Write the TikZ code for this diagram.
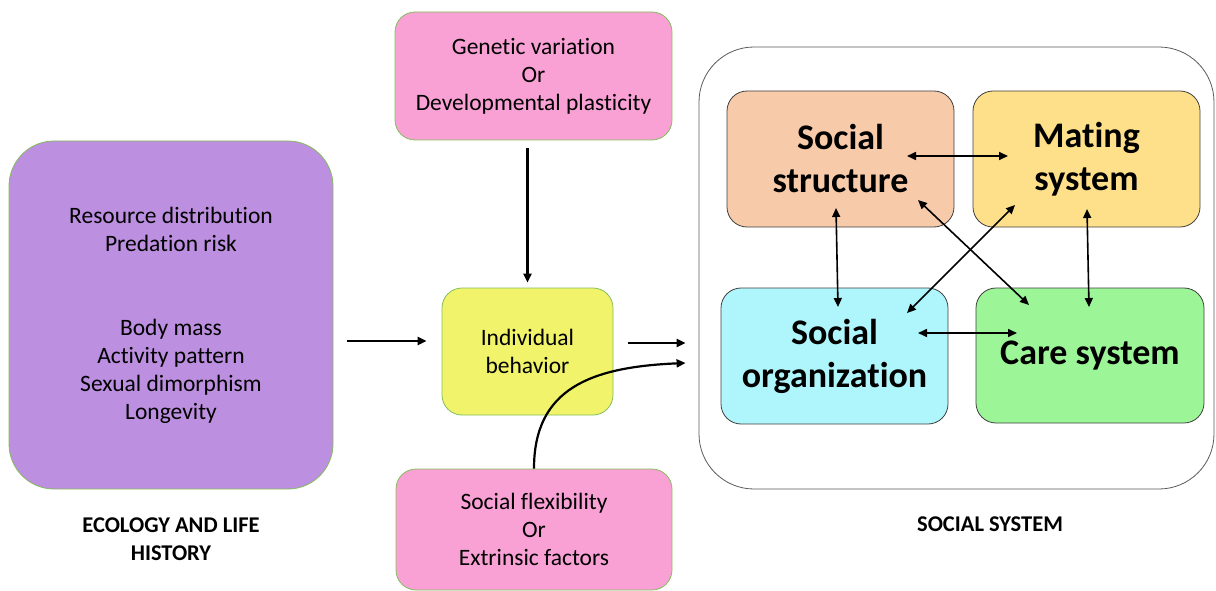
\documentclass[tikz,border=0pt]{standalone}
\usepackage{fontspec}
\setmainfont{Carlito}[Ligatures=NoCommon]
\usepackage{tikz}
\usetikzlibrary{arrows.meta,calc}
\definecolor{ecopurple}{RGB}{188,143,224}
\definecolor{factpink}{RGB}{249,161,213}
\definecolor{indyellow}{RGB}{241,243,106}
\definecolor{structpeach}{RGB}{247,202,170}
\definecolor{matinggold}{RGB}{255,224,138}
\definecolor{orgcyan}{RGB}{174,246,252}
\definecolor{caregreen}{RGB}{156,246,152}
\definecolor{edgegreen}{RGB}{132,190,92}

\begin{document}
\begin{tikzpicture}[x=1pt,y=-1pt,>={Triangle[length=9pt,width=8pt]},
	box/.style={draw=edgegreen,line width=0.8pt,rounded corners=20pt,align=center,inner sep=0pt,
		font=\fontsize{23.5}{28}\selectfont},
	sysbox/.style={draw=black!75,line width=0.8pt,rounded corners=20pt,align=center,inner sep=0pt,
		font=\fontsize{36}{43}\selectfont\bfseries},
	title/.style={align=center,font=\fontsize{22.5}{28}\selectfont\bfseries},
	flow/.style={->,line width=2.2pt},
	link/.style={<->,line width=1.6pt}]
	\useasboundingbox (0,0) rectangle (1216,591);

	\node[box,fill=ecopurple,rounded corners=45pt,minimum width=324pt,minimum height=348pt] (eco) at (171,315)
		{Resource distribution\\Predation risk\\[56pt]Body mass\\Activity pattern\\Sexual dimorphism\\Longevity};
	\node[box,fill=factpink,minimum width=277pt,minimum height=128pt] (gen) at (533.5,76)
		{Genetic variation\\Or\\Developmental plasticity};
	\node[box,fill=indyellow,minimum width=171pt,minimum height=127pt] (ind) at (527.5,351.5)
		{Individual\\behavior};
	\node[box,fill=factpink,minimum width=276pt,minimum height=121pt] (soc) at (534,529.5)
		{Social flexibility\\Or\\Extrinsic factors};

	\node[draw=black!65,line width=0.8pt,rounded corners=55pt,minimum width=515pt,minimum height=442pt] (sys) at (956.5,268) {};
	\node[sysbox,fill=structpeach,minimum width=227pt,minimum height=136pt] (ss) at (840.5,159) {Social\\structure};
	\node[sysbox,fill=matinggold,minimum width=227pt,minimum height=136pt] (ms) at (1086.5,159) {Mating\\system};
	\node[sysbox,fill=orgcyan,minimum width=227pt,minimum height=136pt] (so) at (834.5,356) {Social\\organization};
	\node[sysbox,fill=caregreen,minimum width=228pt,minimum height=135pt] (cs) at (1090,355.5) {Care system};

	\node[title] (ecolabel) at (171,539) {ECOLOGY AND LIFE\\HISTORY};
	\node[title] (syslabel) at (990,524) {SOCIAL SYSTEM};

	\draw[flow] ($(eco.east)+(14,26)$) -- ($(ind.west)+(-15,-10.5)$);
	\draw[flow,shorten <=8pt,shorten >=5pt] (gen.south -| ind.north) -- (ind.north);
	\draw[flow] ($(ind.east)+(15,-8.5)$) -- ($(sys.west)+(-13,75)$);
	\draw[flow] (soc.north) .. controls +(0,-80) and +(-95,4) .. ($(sys.west)+(-13,95)$);

	\draw[link] ($(ss.center)+(66.5,-3)$) -- ($(ms.center)+(-78.5,-3)$);
	\draw[link] ($(ss.center)+(-4.5,49)$) -- ($(so.center)+(3.5,-49)$);
	\draw[link] ($(ss.center)+(77.5,41)$) -- ($(cs.center)+(-61,-50.5)$);
	\draw[link] ($(ms.center)+(-71.5,46)$) -- ($(so.center)+(72.5,-43)$);
	\draw[link] ($(ms.center)+(0.5,50)$) -- ($(cs.center)+(-1,-48.5)$);
	\draw[link] ($(so.center)+(83.5,-23)$) -- ($(cs.center)+(-73,-22.5)$);
\end{tikzpicture}
\end{document}
